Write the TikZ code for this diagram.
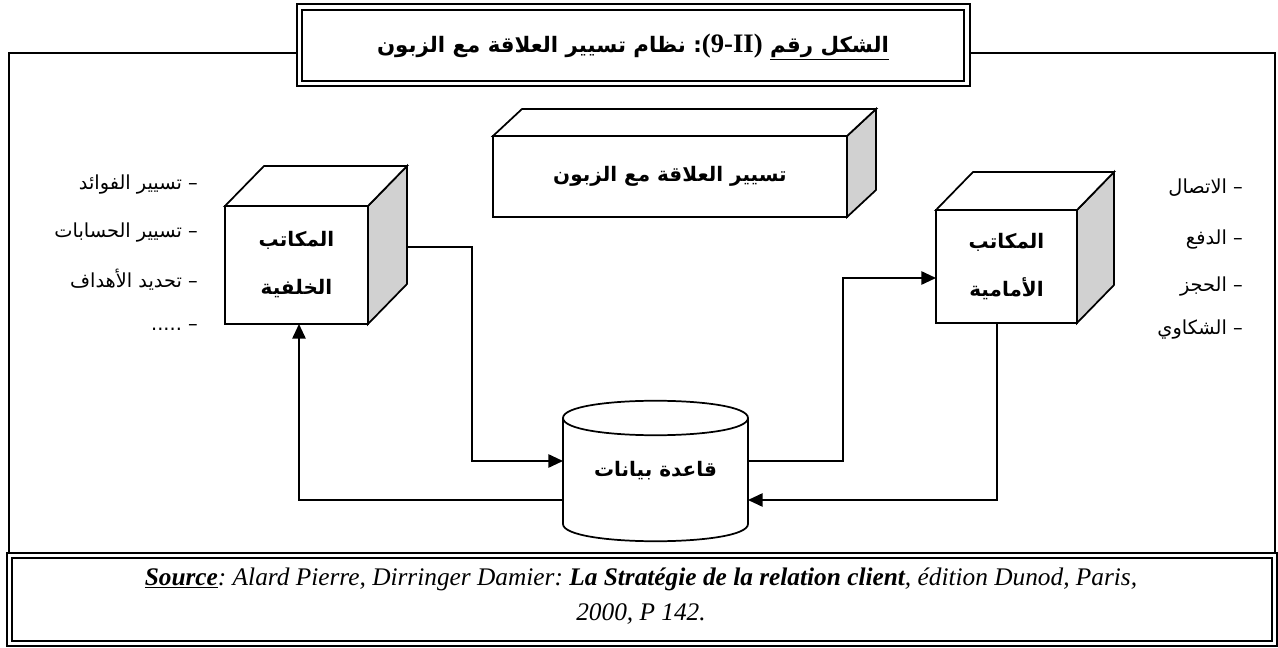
\documentclass[tikz,border=0pt]{standalone}
\usepackage{fontspec}
\setmainfont{Liberation Serif}
\newfontfamily\arabicfont[Script=Arabic]{DejaVu Sans}
\TeXXeTstate=1
\frenchspacing
\usetikzlibrary{arrows.meta,calc}

\newcommand\rtl[1]{\beginR #1\endR}

\tikzset{
  edge/.style={line width=1.3pt, line join=miter},
  conn/.style={line width=1.3pt, -{Triangle[length=11pt,width=10pt]}},
  cubeface/.style={draw, line width=1.3pt, fill=white, inner sep=0pt, outer sep=0pt,
    align=center, font=\arabicfont\bfseries\fontsize{15}{36}\selectfont},
  sidegray/.style={fill=black!18},
  item/.style={anchor=east, inner sep=0pt, font=\arabicfont\fontsize{14.5}{16}\selectfont},
  frame/.style={line width=1.2pt},
  thickframe/.style={line width=1.8pt},
  srctext/.style={inner sep=0pt, font=\itshape\fontsize{19}{21}\selectfont},
}

% front face as a named node, then the shaded side and the top face
\newcommand\drawcube[8]{%
  \node[cubeface, minimum width=#4*0.75pt, minimum height=#5*0.75pt] (#1) at (#2,#3) {#8};
  \filldraw[edge, sidegray] (#1.north east) -- ++(#6,#7) -- ($(#1.south east)+(#6,#7)$) -- (#1.south east) -- cycle;
  \filldraw[edge, fill=white] (#1.north west) -- ++(#6,#7) -- ($(#1.north east)+(#6,#7)$) -- (#1.north east) -- cycle;
}

\begin{document}
\begin{tikzpicture}[x=0.75pt,y=-0.75pt]
\useasboundingbox (0,0) rectangle (1278,648);

% outer frame
\draw[frame] (297,53) -- (9,53) -- (9,553) -- (1275,553) -- (1275,53) -- (970,53);

% title box with double border
\fill[white] (297,4) rectangle (970,86);
\draw[frame] (297,4) rectangle (970,86);
\draw[thickframe] (302,10) rectangle (964,81);
\node[inner sep=0pt] (title) at (633,47) {\arabicfont\bfseries\fontsize{16}{20}\selectfont
  \beginR\underline{\rtl{الشكل رقم}} {\rmfamily\bfseries\fontsize{20}{20}\selectfont\beginL(9-II)\endL}: نظام تسيير العلاقة مع الزبون\endR};

% the three boxes
\drawcube{crm}{670}{176.5}{354}{81}{29}{-27}{\rtl{تسيير العلاقة مع الزبون}}
\drawcube{bo}{296.5}{265}{143}{118}{39}{-40}{\rtl{المكاتب}\\\rtl{الخلفية}}
\drawcube{fo}{1006.5}{266.5}{141}{113}{37}{-38}{\rtl{المكاتب}\\\rtl{الأمامية}}

% database cylinder
\draw[edge] (563,418) -- (563,524) .. controls (563,547) and (748,547) .. (748,524) -- (748,418);
\draw[edge] (563,418) .. controls (563,395) and (748,395) .. (748,418)
  .. controls (748,441) and (563,441) .. (563,418);
\node[inner sep=0pt, outer sep=0pt, minimum width=185*0.75pt, minimum height=140*0.75pt,
  font=\arabicfont\bfseries\fontsize{15}{18}\selectfont] (db) at (655.5,471) {\rtl{قاعدة بيانات}};

% connectors
\coordinate (yin) at (0,461);
\coordinate (yout) at (0,500);
\draw[conn] ($(bo.east)+(39,-18)$) -- (472,247) -- (472,461) -- (db.west |- yin);
\draw[conn] (db.east |- yin) -- (843,461) -- (843,278) -- ($(fo.west)+(0,11.5)$);
\draw[conn] ($(fo.south)+(-9.5,0)$) -- (997,500) -- (db.east |- yout);
\draw[conn] (db.west |- yout) -- (299,500) -- ($(bo.south)+(2.5,0)$);

% side lists
\node[item] (l1) at (198,185) {\rtl{– تسيير الفوائد}};
\node[item] (l2) at (198,233) {\rtl{– تسيير الحسابات}};
\node[item] (l3) at (198,280) {\rtl{– تحديد الأهداف}};
\node[item] (l4) at (198,328) {\rtl{– .....}};
\node[item] (r1) at (1243,188) {\rtl{– الاتصال}};
\node[item] (r2) at (1243,240) {\rtl{– الدفع}};
\node[item] (r3) at (1243,287) {\rtl{– الحجز}};
\node[item] (r4) at (1243,330) {\rtl{– الشكاوي}};

% source box with double border
\fill[white] (7,553) rectangle (1277,646);
\draw[frame] (7,553) rectangle (1277,646);
\draw[thickframe] (12,558) rectangle (1272,641);
\node[srctext] (src1) at (641,579) {\textbf{\underline{Source}}: Alard Pierre, Dirringer Damier: \textbf{La Stratégie de la relation client}, édition Dunod, Paris,};
\node[srctext] (src2) at (641,614) {2000, P 142.};
\end{tikzpicture}
\end{document}
